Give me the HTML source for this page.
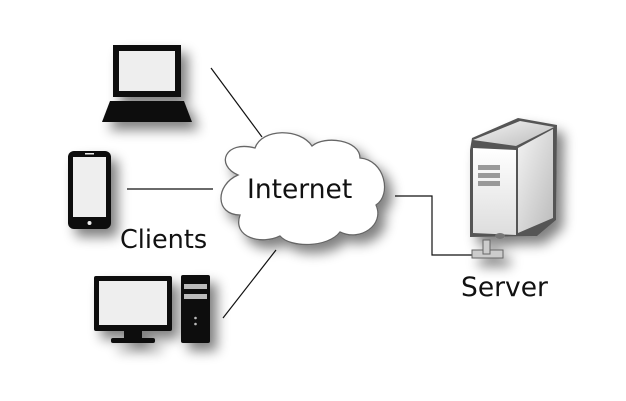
<!DOCTYPE html>
<html><head><style>
html,body{margin:0;padding:0;background:#fff;}
svg{display:block}
text{font-family:"DejaVu Sans","Liberation Sans",sans-serif;fill:#111}
</style></head><body>
<svg width="626" height="401" viewBox="0 0 626 401">
<defs>
<filter id="sh" x="-40%" y="-40%" width="190%" height="190%">
<feGaussianBlur in="SourceAlpha" stdDeviation="6"/>
<feOffset dx="7" dy="8" result="b"/>
<feComponentTransfer><feFuncA type="linear" slope="0.5"/></feComponentTransfer>
<feMerge><feMergeNode/><feMergeNode in="SourceGraphic"/></feMerge>
</filter>
<linearGradient id="sf" x1="0" y1="0" x2="0" y2="1"><stop offset="0" stop-color="#fff"/><stop offset="1" stop-color="#ddd"/></linearGradient>
<linearGradient id="ss" x1="0" y1="0" x2="1" y2="1"><stop offset="0" stop-color="#f4f4f4"/><stop offset="1" stop-color="#bbb"/></linearGradient>
</defs>
<g stroke="#111" stroke-width="1.2" fill="none">
<line x1="211" y1="68" x2="262" y2="137"/>
<line x1="127" y1="189" x2="213" y2="189"/>
<line x1="223" y1="318" x2="276" y2="250"/>
<polyline points="395,196 432,196 432,255 472,255"/>
</g>
<g filter="url(#sh)">
<rect x="113" y="45" width="68" height="52" fill="#111"/>
<rect x="119" y="51" width="56" height="40" fill="#eee"/>
<polygon points="110,101 184,101 192,122 102,122" fill="#111"/>
</g>
<g filter="url(#sh)">
<rect x="68" y="151" width="43" height="78" rx="6" fill="#111"/>
<rect x="73" y="157" width="33" height="60" fill="#eee"/>
<rect x="85" y="153" width="9" height="1.5" fill="#eee"/>
<circle cx="89.5" cy="223" r="2" fill="#eee"/>
</g>
<g filter="url(#sh)">
<rect x="94" y="276" width="78" height="55" rx="2" fill="#111"/>
<rect x="99" y="281" width="68" height="44" fill="#eee"/>
<rect x="124" y="330" width="18" height="9" fill="#111"/>
<rect x="111" y="338" width="44" height="5" rx="2" fill="#111"/>
<rect x="181" y="275" width="29" height="68" rx="2" fill="#111"/>
<rect x="184" y="284" width="23" height="5" fill="#bbb"/>
<rect x="184" y="294" width="23" height="5" fill="#bbb"/>
<circle cx="195.5" cy="318" r="1.3" fill="#bbb"/>
<circle cx="195.5" cy="324" r="1.3" fill="#bbb"/>
</g>
<path filter="url(#sh)" d="M238,175 C215,165 225,140 255,148 C262,128 300,128 312,146 C325,135 360,140 360,158 C385,160 392,195 376,205 C385,225 360,242 340,232 C328,248 290,248 280,236 C262,245 232,238 240,215 C215,215 215,185 238,175 Z" fill="#fff" stroke="#666" stroke-width="1.3"/>
<text x="247" y="198" font-size="26.5">Internet</text>
<g filter="url(#sh)">
<rect x="472" y="250" width="31" height="8" fill="#ccc" stroke="#666" stroke-width="1"/>
<rect x="483" y="240" width="7" height="14" fill="#ccc" stroke="#666" stroke-width="1"/>
<polygon points="470,150 472,138 518,118 557,125 556,220 537,236 470,237" fill="#555"/>
<polygon points="473,140 520,121 554,127 516,146" fill="url(#ss)"/>
<polygon points="473,148 516,150 516,235 473,233" fill="url(#sf)"/>
<polygon points="518,148 553,129 553,218 518,233" fill="url(#ss)"/>
<rect x="478" y="165" width="22" height="5" fill="#999"/>
<rect x="478" y="173" width="22" height="5" fill="#999"/>
<rect x="478" y="181" width="22" height="5" fill="#999"/>
<ellipse cx="500" cy="236" rx="5" ry="3" fill="#777"/>
</g>
<text x="120" y="248" font-size="25.5">Clients</text>
<text x="461" y="296" font-size="26.5">Server</text>
</svg>
</body></html>
